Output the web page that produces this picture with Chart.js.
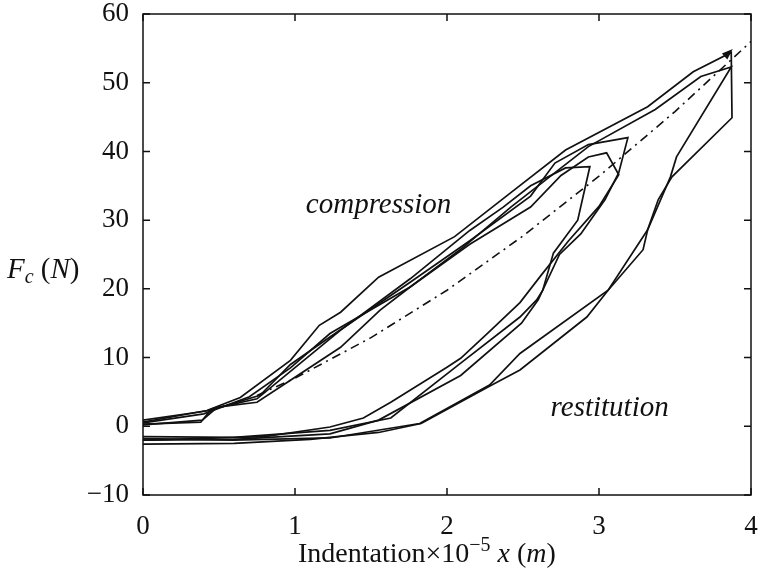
<!DOCTYPE html>
<html>
<head>
<meta charset="utf-8">
<script src="https://cdn.jsdelivr.net/npm/chart.js@4/dist/chart.umd.min.js"></script>
<style>
  html,body{margin:0;padding:0;background:#fff;}
  #wrap{width:758px;height:570px;}
</style>
</head>
<body>
<div id="wrap"><canvas id="c" width="758" height="570"></canvas></div>
<script>
// ---- data (indentation x1e-5 m, force N) ----
const xTicks = [0, 1, 2, 3, 4];
const yTicks = [-10, 0, 10, 20, 30, 40, 50, 60];

// loop 1 (largest, upper peak)
const loop1X = [0, 0.42, 0.64, 0.97, 1.16, 1.30, 1.55, 2.05, 2.42, 2.78, 3.32, 3.62, 3.87, 3.875, 3.48, 3.39, 3.32, 3.29, 3.06, 2.92, 2.48, 2.27, 1.83, 1.55, 1.10, 0.60, 0];
const loop1Y = [0.6, 2.3, 4.2, 9.6, 14.7, 16.6, 21.7, 27.6, 34.0, 40.2, 46.5, 51.6, 54.4, 44.9, 36.3, 33.0, 28.6, 25.7, 19.8, 15.9, 8.2, 5.7, 0.4, -0.9, -1.9, -2.5, -2.6];
// loop 2 (largest, lower peak)
const loop2X = [0, 0.39, 0.49, 0.75, 0.97, 1.30, 1.56, 1.76, 2.11, 2.42, 2.93, 3.37, 3.67, 3.87, 3.51, 3.47, 3.32, 3.06, 2.48, 2.28, 1.82, 1.23, 0.59, 0];
const loop2Y = [0.2, 0.9, 2.8, 3.5, 6.7, 11.5, 16.9, 20.3, 26.1, 31.9, 40.7, 46.1, 50.9, 52.3, 39.2, 36.3, 28.6, 19.8, 10.6, 6.0, 0.4, -1.7, -2.0, -1.8];
// loop 3 (peak near 3.2)
const loop3X = [0, 0.44, 0.77, 0.97, 1.23, 1.76, 2.15, 2.55, 2.71, 2.93, 3.19, 3.13, 3.04, 2.88, 2.74, 2.60, 2.49, 2.09, 1.55, 1.23, 0.60, 0];
const loop3Y = [0.9, 2.3, 4.5, 9.0, 13.0, 21.0, 27.0, 33.5, 38.3, 41.0, 42.0, 36.9, 33.0, 28.0, 25.0, 18.4, 15.0, 7.4, 0.9, -1.1, -1.9, -2.0];
// loop 4 (peak near 3.05)
const loop4X = [0, 0.40, 0.70, 0.97, 1.23, 1.76, 2.15, 2.55, 2.75, 2.93, 3.05, 3.13, 3.00, 2.80, 2.62, 2.48, 2.27, 2.09, 2.00, 1.63, 1.45, 1.23, 0.80, 0];
const loop4Y = [0.5, 1.8, 4.3, 8.5, 13.5, 20.3, 26.5, 31.9, 36.5, 39.2, 39.8, 36.6, 32.0, 27.0, 22.0, 18.0, 13.6, 9.9, 8.6, 3.5, 1.2, -0.1, -1.5, -2.0];
// loop 5 (peak near 2.95)
const loop5X = [0, 0.38, 0.45, 0.75, 0.97, 1.30, 1.76, 2.15, 2.37, 2.55, 2.78, 2.94, 2.86, 2.70, 2.63, 2.59, 2.48, 2.09, 1.63, 1.23, 0.60, 0];
const loop5Y = [0.3, 0.6, 2.5, 4.0, 8.0, 14.0, 21.5, 28.5, 31.9, 35.0, 37.6, 37.8, 30.0, 25.2, 19.8, 18.4, 15.9, 9.2, 1.2, -0.6, -1.6, -1.5];
// dash-dot reference curve
const refX = [0.75, 1.0, 1.5, 2.0, 2.5, 3.0, 3.5, 4.0];
const refY = [4.5, 7.0, 12.9, 19.8, 27.7, 36.4, 45.8, 56.0];
// arrow head at end of loading path (tip and a point behind it on the path)
const arrowX = [3.80, 3.88];
const arrowY = [53.3, 54.9];

const loops = [[loop1X, loop1Y], [loop2X, loop2Y], [loop3X, loop3Y], [loop4X, loop4Y], [loop5X, loop5Y]];
const pts = (xs, ys) => xs.map((x, i) => ({x: x, y: ys[i]}));

const datasets = loops.map(([xs, ys]) => ({
  data: pts(xs, ys), showLine: true, borderColor: '#111', borderWidth: 1.7,
  pointRadius: 0, tension: 0, fill: false
}));
datasets.push({
  data: pts(refX, refY), showLine: true, borderColor: '#111', borderWidth: 1.6,
  borderDash: [9, 5, 2, 5], pointRadius: 0, tension: 0, fill: false
});

const SERIF = '"Liberation Serif", "DejaVu Serif", serif';

function drawRuns(ctx, runs, x, y) {
  let cx = x;
  ctx.textAlign = 'left';
  ctx.textBaseline = 'alphabetic';
  for (const r of runs) {
    ctx.font = r.font;
    ctx.fillText(r.t, cx, y + (r.dy || 0));
    cx += ctx.measureText(r.t).width + (r.gap || 0);
  }
}

const framePlugin = {
  id: 'frame',
  afterDraw(chart) {
    const {ctx, chartArea: a, scales: {x, y}} = chart;
    ctx.save();
    ctx.strokeStyle = '#111';
    ctx.lineWidth = 1.5;
    ctx.strokeRect(a.left, a.top, a.right - a.left, a.bottom - a.top);
    const L = 7;
    ctx.beginPath();
    for (const v of xTicks) {
      const px = x.getPixelForValue(v);
      ctx.moveTo(px, a.bottom); ctx.lineTo(px, a.bottom - L);
      ctx.moveTo(px, a.top); ctx.lineTo(px, a.top + L);
    }
    for (const v of yTicks) {
      const py = y.getPixelForValue(v);
      ctx.moveTo(a.left, py); ctx.lineTo(a.left + L, py);
      ctx.moveTo(a.right, py); ctx.lineTo(a.right - L, py);
    }
    ctx.stroke();

    // arrow head
    const bx = x.getPixelForValue(arrowX[0]), by = y.getPixelForValue(arrowY[0]);
    const tx = x.getPixelForValue(arrowX[1]), ty = y.getPixelForValue(arrowY[1]);
    const ang = Math.atan2(ty - by, tx - bx);
    const len = 11, half = 4;
    ctx.fillStyle = '#111';
    ctx.beginPath();
    ctx.moveTo(tx, ty);
    ctx.lineTo(tx - len * Math.cos(ang) - half * Math.sin(ang), ty - len * Math.sin(ang) + half * Math.cos(ang));
    ctx.lineTo(tx - len * Math.cos(ang) + half * Math.sin(ang), ty - len * Math.sin(ang) - half * Math.cos(ang));
    ctx.closePath();
    ctx.fill();

    // annotations
    ctx.font = 'italic 29px ' + SERIF;
    ctx.textAlign = 'center';
    ctx.textBaseline = 'middle';
    ctx.fillText('compression', x.getPixelForValue(1.55), y.getPixelForValue(32.2));
    ctx.fillText('restitution', x.getPixelForValue(3.07), y.getPixelForValue(2.6));

    // x-axis title
    drawRuns(ctx, [
      {t: 'Indentation', font: '28px ' + SERIF},
      {t: '×10', font: '28px ' + SERIF},
      {t: '−5', font: '20px ' + SERIF, dy: -11},
      {t: ' ', font: '28px ' + SERIF},
      {t: 'x', font: 'italic 28px ' + SERIF},
      {t: ' (', font: '28px ' + SERIF},
      {t: 'm', font: 'italic 28px ' + SERIF},
      {t: ')', font: '28px ' + SERIF}
    ], 298, 562);

    // y-axis title
    drawRuns(ctx, [
      {t: 'F', font: 'italic 29px ' + SERIF},
      {t: 'c', font: 'italic 20px ' + SERIF, dy: 5},
      {t: ' (', font: '29px ' + SERIF},
      {t: 'N', font: 'italic 29px ' + SERIF},
      {t: ')', font: '29px ' + SERIF}
    ], 7, 278);
    ctx.restore();
  }
};

new Chart(document.getElementById('c'), {
  type: 'scatter',
  data: {datasets: datasets},
  options: {
    responsive: false,
    animation: false,
    layout: {padding: {top: 14, right: 7, left: 0, bottom: 0}},
    plugins: {legend: {display: false}, tooltip: {enabled: false}},
    scales: {
      x: {
        type: 'linear', min: 0, max: 4,
        afterFit: s => { s.height = 75; s.paddingLeft = 0; s.paddingRight = 0; },
        afterBuildTicks: s => { s.ticks = xTicks.map(v => ({value: v})); },
        grid: {display: false, drawTicks: false},
        border: {display: false},
        ticks: {color: '#111', padding: 16, font: {family: SERIF, size: 27}, maxRotation: 0}
      },
      y: {
        type: 'linear', min: -10, max: 60,
        afterFit: s => { s.width = 143; s.paddingTop = 0; s.paddingBottom = 0; },
        afterBuildTicks: s => { s.ticks = yTicks.map(v => ({value: v})); },
        grid: {display: false, drawTicks: false},
        border: {display: false},
        ticks: {color: '#111', padding: 14, font: {family: SERIF, size: 27},
          callback: v => (v < 0 ? '−' + Math.abs(v) : String(v))}
      }
    }
  },
  plugins: [framePlugin]
});
</script>
</body>
</html>
